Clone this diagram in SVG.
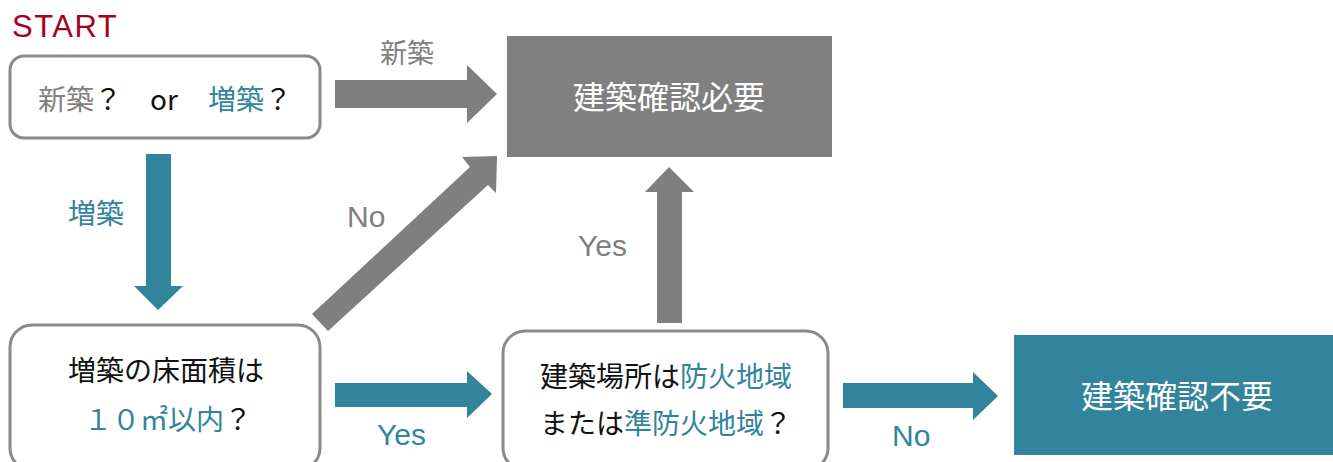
<svg xmlns="http://www.w3.org/2000/svg" width="1333" height="462" viewBox="0 0 1333 462">
<style>
.box{fill:#fff;stroke:#8a8a8a;stroke-width:3}
.jp{font-family:"Noto Sans CJK JP","Noto Sans",sans-serif;font-size:28px}
.big{font-family:"Noto Sans CJK JP","Noto Sans",sans-serif;font-size:32px;fill:#fff;text-anchor:middle}
.lat{font-family:"Liberation Sans","Noto Sans",sans-serif;font-size:30px}
.gray{fill:#7f7f7f}
.teal{fill:#31849b}
.blk{fill:#111}
</style>
<rect width="1333" height="462" fill="#fff"/>
<text x="12" y="37" class="lat" style="font-size:31px;letter-spacing:1.5px" fill="#a50021">START</text>
<g id="connectors">
  <polygon class="gray" points="335,80 467,80 467,65 497,94 467,123 467,108 335,108"/>
  <polygon class="teal" points="146,154 171,154 171,286 183,286 158,310 134,286 146,286"/>
  <polygon class="gray" points="312,314 470,167 462,157 497,156 496,193 488,185 328,331"/>
  <polygon class="gray" points="657,323 657,192 645,192 669,167 694,192 682,192 682,323"/>
  <polygon class="teal" points="335,383 467,383 467,371 492,394 467,418 467,407 335,407"/>
  <polygon class="teal" points="843,383 973,383 973,372 998,396 973,420 973,408 843,408"/>
  <text x="380" y="63" class="jp gray" style="font-size:27px">新築</text>
  <text x="68" y="224" class="jp teal">増築</text>
  <text x="347" y="227" class="lat gray">No</text>
  <text x="578" y="256" class="lat gray">Yes</text>
  <text x="377" y="445" class="lat teal">Yes</text>
  <text x="892" y="446" class="lat teal">No</text>
</g>
<g id="start">
  <rect class="box" x="10" y="56" width="310" height="82" rx="14"/>
  <text y="110" class="jp"><tspan x="38" class="gray">新築</tspan><tspan x="94" class="blk">？</tspan><tspan x="150" class="blk">or</tspan><tspan x="208" class="teal">増築</tspan><tspan x="264" class="blk">？</tspan></text>
</g>
<g id="need">
  <rect x="507" y="36" width="325" height="121" fill="#808080"/>
  <text x="669" y="109" class="big">建築確認必要</text>
</g>
<g id="area">
  <rect class="box" x="10" y="325" width="310" height="145" rx="22"/>
  <text x="68" y="381" class="jp blk">増築の床面積は</text>
  <text y="430" class="jp"><tspan x="84" class="teal">１０㎡以内</tspan><tspan class="blk">？</tspan></text>
</g>
<g id="fire">
  <rect class="box" x="503" y="331" width="325" height="139" rx="22"/>
  <text y="387" class="jp"><tspan x="540" class="blk">建築場所は</tspan><tspan class="teal">防火地域</tspan></text>
  <text y="434" class="jp"><tspan x="540" class="blk">または</tspan><tspan class="teal">準防火地域</tspan><tspan class="blk">？</tspan></text>
</g>
<g id="noneed">
  <rect x="1014" y="335" width="319" height="120" fill="#31849b"/>
  <text x="1177" y="408" class="big">建築確認不要</text>
</g>
</svg>
